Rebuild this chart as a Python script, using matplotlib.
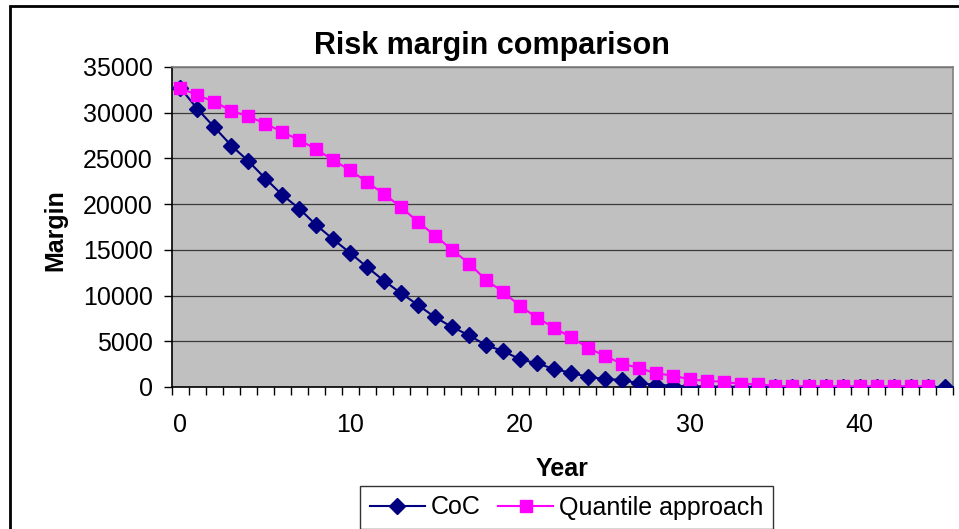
import matplotlib
matplotlib.use("Agg")
import matplotlib.pyplot as plt
from matplotlib.patches import Rectangle
from matplotlib.ticker import FixedLocator

plt.rcParams['font.family'] = ['Liberation Sans', 'DejaVu Sans']

years_coc = list(range(0, 46))
coc = [32700, 30400, 28400, 26400, 24700, 22800, 21000, 19500, 17700, 16150,
       14650, 13100, 11600, 10250, 8950, 7620, 6560, 5650, 4560, 3940,
       3030, 2590, 1970, 1550, 1100, 880, 770, 400, 250, 140,
       80, 50, 30, 20, 10, 5, 0, 0, 0, 0,
       0, 0, 0, 0, 0, 0]
years_q = list(range(0, 45))
quantile = [32700, 31900, 31200, 30200, 29600, 28800, 27900, 27000, 26000, 24800,
            23700, 22400, 21100, 19650, 18050, 16550, 15000, 13500, 11700, 10400,
            8860, 7580, 6490, 5420, 4300, 3390, 2550, 2080, 1500, 1240,
            840, 660, 580, 330, 330, 110, 80, 80, 80, 80,
            80, 80, 80, 80, 80]
x_tick_labels = [0, 10, 20, 30, 40]
y_ticks = [0, 5000, 10000, 15000, 20000, 25000, 30000, 35000]

W, H = 959, 529
fig = plt.figure(figsize=(W / 100, H / 100), dpi=100)

# outer chart frame (cropped at right and bottom)
fig.patches.append(Rectangle((10 / W, -0.1), 1.2, 1 - 6 / H + 0.1, transform=fig.transFigure,
                             fill=False, edgecolor='black', linewidth=2.0, zorder=0))

left, right, top, bottom = 172, 953, 67, 387
ax = fig.add_axes([left / W, 1 - bottom / H, (right - left) / W, (bottom - top) / H])
ax.set_facecolor('#C0C0C0')

ax.set_xlim(-0.5, 45.5)
ax.set_ylim(0, 35000)
ax.yaxis.set_major_locator(FixedLocator(y_ticks))
ax.grid(axis='y', color='#3a3a3a', linewidth=0.9)
ax.set_axisbelow(True)

ax.plot(years_coc, coc, color='#000080', linewidth=1.5, marker='D', markersize=8.5,
        markerfacecolor='#000080', markeredgecolor='#000080', label='CoC', zorder=3)
ax.plot(years_q, quantile, color='#FF00FF', linewidth=1.5, marker='s', markersize=8.5,
        markerfacecolor='#FF00FF', markeredgecolor='#FF00FF', label='Quantile approach', zorder=4)

ax.xaxis.set_major_locator(FixedLocator(x_tick_labels))
ax.xaxis.set_minor_locator(FixedLocator([i - 0.5 for i in range(47)]))
ax.tick_params(axis='x', which='major', length=0, pad=19, labelsize=18)
ax.tick_params(axis='x', which='minor', length=6, width=1, direction='out', color='black')
ax.tick_params(axis='y', which='major', length=6, width=1, direction='out', pad=8,
               labelsize=18, color='black')

for s in ['top', 'right']:
    ax.spines[s].set_color('#808080')
    ax.spines[s].set_linewidth(1.2)
for s in ['left', 'bottom']:
    ax.spines[s].set_color('black')
    ax.spines[s].set_linewidth(1.2)

fig.text(492 / W, 1 - 46 / H, 'Risk margin comparison', ha='center', va='center',
         fontsize=22, fontweight='bold')
fig.text(562 / W, 1 - 469 / H, 'Year', ha='center', va='center', fontsize=18, fontweight='bold')
fig.text(55 / W, 1 - 230 / H, 'Margin', ha='center', va='center', fontsize=18,
         fontweight='bold', rotation=90)

leg = fig.legend(loc='upper left', bbox_to_anchor=(360 / W, 1 - 486 / H), ncol=2,
                 fontsize=18, frameon=True, fancybox=False, borderaxespad=0,
                 handlelength=2.2, handletextpad=0.25, columnspacing=0.7, borderpad=0.38)
leg.get_frame().set_edgecolor('black')
leg.get_frame().set_linewidth(1.0)
for h in leg.legend_handles:
    h.set_markersize(8.5)

fig.savefig('out.png', dpi=100)
